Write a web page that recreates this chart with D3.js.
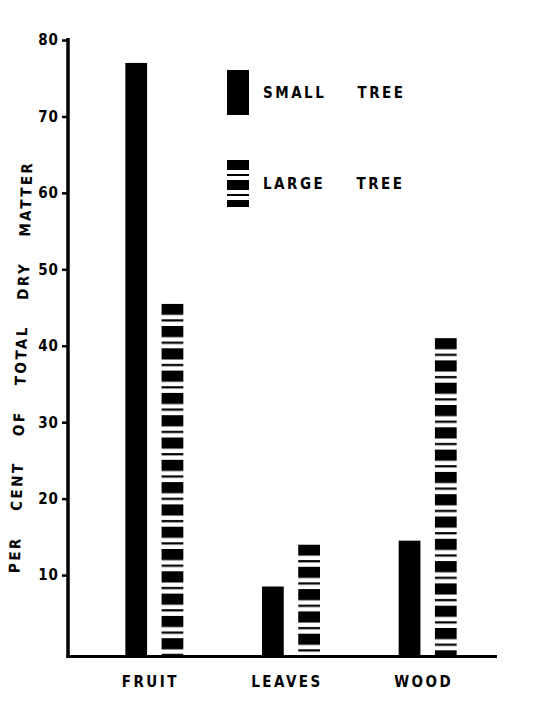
<!DOCTYPE html>
<html><head><meta charset="utf-8">
<script src="https://cdn.jsdelivr.net/npm/d3@7"></script>
<style>body{margin:0;background:#fff}svg{display:block}</style>
</head><body>
<svg id="c" width="536" height="701"></svg>
<script>
const categories = ["FRUIT", "LEAVES", "WOOD"];
const seriesNames = ["SMALL TREE", "LARGE TREE"];
const smallTree = [77, 8.5, 14.5];
const largeTree = [45.5, 14, 41];
const yTicks = [10, 20, 30, 40, 50, 60, 70, 80];
const yTitle = "PER CENT OF TOTAL DRY MATTER";

const FONT = "'DejaVu Sans Condensed', 'DejaVu Sans', sans-serif";
const svg = d3.select("#c");
const defs = svg.append("defs");

const y = d3.scaleLinear().domain([0, 80]).range([651.5, 40]);
const base = y(0) + 5;
const x0 = d3.scaleBand().domain(categories).range([86, 496]);
const x1 = d3.scaleBand().domain(seriesNames)
  .range([x0.bandwidth() / 2 - 29, x0.bandwidth() / 2 + 29]).paddingInner(0.4);

// stripe pattern generator for "large tree"
function stripePattern(id, top, period) {
  const p = defs.append("pattern").attr("id", id)
    .attr("patternUnits", "userSpaceOnUse")
    .attr("x", 0).attr("y", top).attr("width", 600).attr("height", period);
  p.append("rect").attr("x", 0).attr("y", 0).attr("width", 600).attr("height", period * 0.5).attr("fill", "#000");
  p.append("rect").attr("x", 0).attr("y", period * 0.7).attr("width", 600).attr("height", period * 0.1).attr("fill", "#000");
}

const data = categories.map((c, i) => ({cat: c, values: [
  {s: seriesNames[0], v: smallTree[i]},
  {s: seriesNames[1], v: largeTree[i]}
]}));

const g = svg.append("g");
data.forEach((d, i) => {
  d.values.forEach((b, j) => {
    const top = y(b.v);
    let fill = "#000";
    if (j === 1) {
      const id = "pat" + i;
      stripePattern(id, top, 22.3);
      fill = "url(#" + id + ")";
    }
    g.append("rect")
      .attr("x", x0(d.cat) + x1(b.s))
      .attr("y", top)
      .attr("width", x1.bandwidth())
      .attr("height", base - top)
      .attr("fill", fill);
  });
});

// axes
svg.append("line").attr("x1", 68).attr("x2", 68).attr("y1", y(80) - 2).attr("y2", base + 1.5)
  .attr("stroke", "#000").attr("stroke-width", 3.5);
svg.append("line").attr("x1", 66.5).attr("x2", x0.range()[1] + 1).attr("y1", base).attr("y2", base)
  .attr("stroke", "#000").attr("stroke-width", 3.2);

const ax = svg.append("g").attr("transform", "translate(68,0)")
  .call(d3.axisLeft(y).tickValues(yTicks).tickSize(6).tickSizeOuter(0).tickPadding(3).tickFormat(d3.format("d")));
ax.select(".domain").remove();
ax.selectAll(".tick line").attr("stroke", "#000").attr("stroke-width", 2.5);
ax.selectAll(".tick text").attr("fill", "#000").attr("font-family", FONT)
  .attr("font-weight", "bold").attr("font-size", 15).attr("letter-spacing", 1);

// x labels
svg.append("g").selectAll("text").data(categories).join("text")
  .attr("x", d => x0(d) + x0.bandwidth() / 2 - 4)
  .attr("y", 687)
  .attr("text-anchor", "middle")
  .attr("font-family", FONT).attr("font-weight", "bold").attr("font-size", 15)
  .attr("letter-spacing", 2.5).text(d => d);

// y title
svg.append("text")
  .attr("transform", "translate(26,367) rotate(-88.2)")
  .attr("text-anchor", "middle")
  .attr("font-family", FONT).attr("font-weight", "bold").attr("font-size", 15)
  .attr("letter-spacing", 2.5).attr("word-spacing", 18).text(yTitle);

// legend
const legendY = [70, 160];
const legendH = [45, 47];
seriesNames.forEach((s, i) => {
  let fill = "#000";
  if (i === 1) { stripePattern("patLeg", legendY[i], 20); fill = "url(#patLeg)"; }
  svg.append("rect").attr("x", 227).attr("y", legendY[i]).attr("width", 22).attr("height", legendH[i]).attr("fill", fill);
  svg.append("text").attr("x", 263).attr("y", legendY[i] + legendH[i] / 2 + 5.5)
    .attr("font-family", FONT).attr("font-weight", "bold").attr("font-size", 15)
    .attr("letter-spacing", 2.5).attr("word-spacing", 24).style("white-space", "pre").text(s);
});
</script>
</body></html>
